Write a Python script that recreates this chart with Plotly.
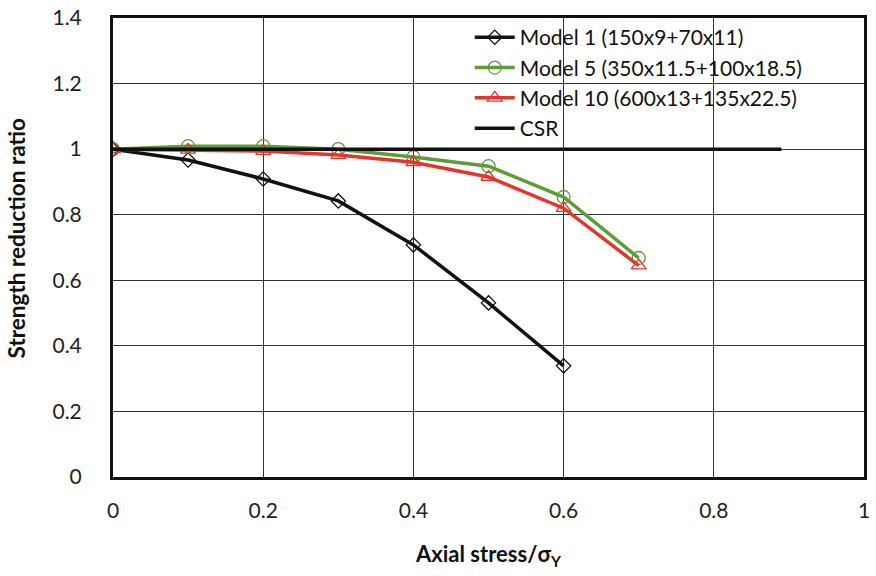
import plotly.graph_objects as go

# Axial stress ratio (sigma / sigma_Y)
stress = [0.0, 0.1, 0.2, 0.3, 0.4, 0.5, 0.6, 0.7]

# Strength reduction ratio per model
model1 = [1.0, 0.967, 0.909, 0.842, 0.708, 0.531, 0.339]
model5 = [1.0, 1.009, 1.009, 1.0, 0.976, 0.948, 0.854, 0.668]
model10 = [1.0, 0.998, 0.994, 0.982, 0.960, 0.915, 0.820, 0.645]

# CSR reference line
csr_x = [0.0, 0.89]
csr_y = [1.0, 1.0]

names = ["Model 1 (150x9+70x11)", "Model 5 (350x11.5+100x18.5)",
         "Model 10 (600x13+135x22.5)", "CSR"]

FONT = "Lato, 'Open Sans', sans-serif"
GREEN = "#5e9c3a"
RED = "#e5342a"

fig = go.Figure()
fig.add_trace(go.Scatter(
    x=stress[:len(model1)], y=model1, name=names[0], mode="lines+markers",
    line=dict(color="#111111", width=3.5),
    marker=dict(symbol="diamond-open", size=11, color="#111111", line=dict(width=1.3)),
))
fig.add_trace(go.Scatter(
    x=stress, y=model5, name=names[1], mode="lines+markers",
    line=dict(color=GREEN, width=3.5),
    marker=dict(symbol="circle-open", size=13, color=GREEN, line=dict(width=1.3)),
))
fig.add_trace(go.Scatter(
    x=stress, y=model10, name=names[2], mode="lines+markers",
    line=dict(color=RED, width=3.5),
    marker=dict(symbol="triangle-up-open", size=13, color=RED, line=dict(width=1.3)),
))
fig.add_trace(go.Scatter(
    x=csr_x, y=csr_y, name=names[3], mode="lines",
    line=dict(color="#111111", width=3.5),
))

fig.update_layout(
    width=876, height=576,
    margin=dict(l=113, r=12, t=18, b=99),
    paper_bgcolor="white", plot_bgcolor="white",
    font=dict(family=FONT, size=21, color="#222222"),
    legend=dict(
        x=0.475, y=1.002, xanchor="left", yanchor="top",
        bgcolor="rgba(0,0,0,0)",
        font=dict(family=FONT, size=21, color="#111111"),
        tracegroupgap=0, itemwidth=40,
    ),
    showlegend=True,
    # translucent panel behind the legend: fades the grid, stays under the lines
    shapes=[
        dict(type="rect", xref="paper", yref="paper", layer="between",
             x0=0.446, x1=0.944, y0=0.742, y1=1.0,
             fillcolor="rgba(255,255,255,0.75)", line=dict(width=0)),
    ],
    annotations=[
        dict(text="<b>Axial stress/σ<sub>Y</sub></b>", xref="paper", yref="paper",
             x=0.5, y=-0.17, xanchor="center", yanchor="middle", showarrow=False,
             font=dict(family=FONT, size=22, color="#111111")),
        dict(text="<b>Strength reduction ratio</b>", xref="paper", yref="paper",
             x=-0.129, y=0.52, xanchor="center", yanchor="middle", showarrow=False,
             textangle=-90, font=dict(family=FONT, size=22.5, color="#111111")),
    ],
)
fig.update_xaxes(
    range=[0, 1], tickvals=[0, 0.2, 0.4, 0.6, 0.8, 1],
    ticktext=["0", "0.2", "0.4", "0.6", "0.8", "1"],
    showgrid=True, gridcolor="#333333", gridwidth=1,
    showline=True, linecolor="#111111", linewidth=3, mirror=True,
    zeroline=False, ticks="", ticklabelstandoff=13, automargin=False,
)
fig.update_yaxes(
    range=[0, 1.4], tickvals=[0, 0.2, 0.4, 0.6, 0.8, 1.0, 1.2, 1.4],
    ticktext=["0", "0.2", "0.4", "0.6", "0.8", "1", "1.2", "1.4"],
    showgrid=True, gridcolor="#333333", gridwidth=1,
    showline=True, linecolor="#111111", linewidth=3, mirror=True,
    zeroline=False, ticks="", ticklabelstandoff=24, automargin=False,
)

fig.write_html("out.html")
